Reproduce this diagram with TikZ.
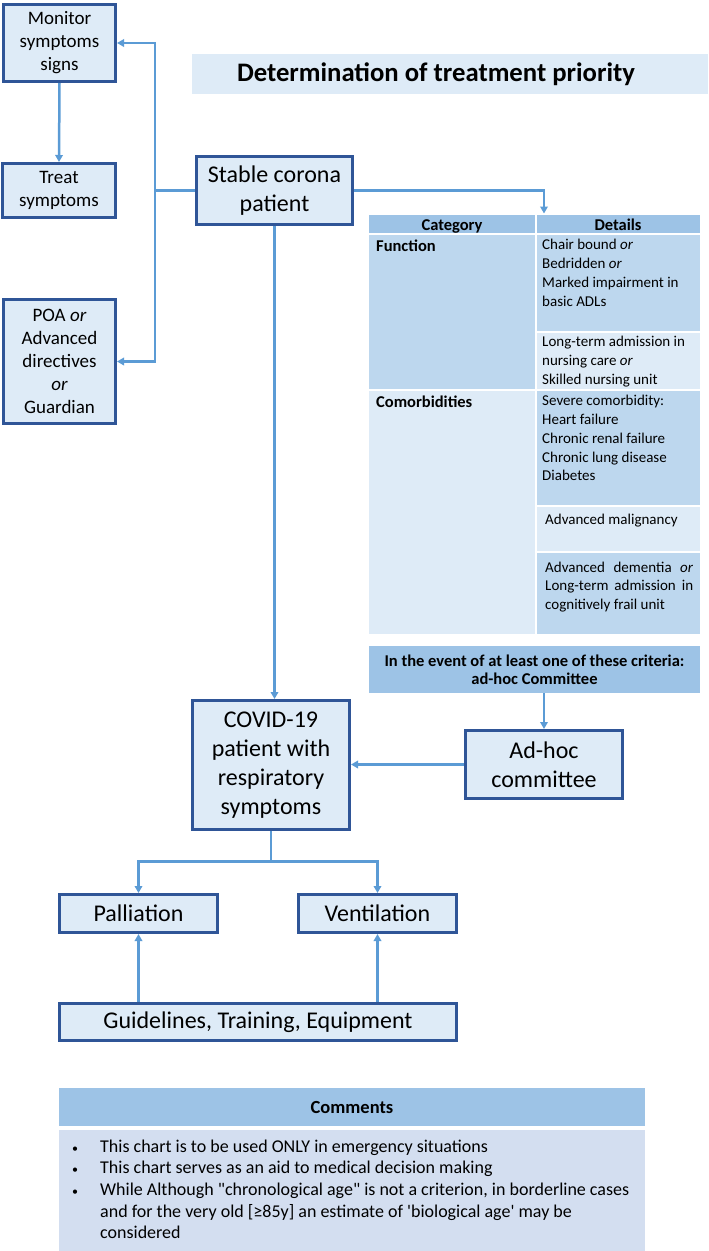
\documentclass[tikz,border=0pt]{standalone}
\usepackage{fontspec}
\setmainfont{Carlito}[Ligatures=TeXOff]
\usetikzlibrary{arrows.meta}
\definecolor{boxfill}{HTML}{DEEBF7}
\definecolor{boxline}{HTML}{2F5597}
\definecolor{arrowc}{HTML}{5B9BD5}
\definecolor{hdr}{HTML}{9DC3E6}
\definecolor{midb}{HTML}{BDD7EE}
\definecolor{lightb}{HTML}{DEEBF7}
\definecolor{combody}{HTML}{D3DEF0}
\newcommand\fbig{\fontsize{24}{29}\selectfont}
\newcommand\fsm{\fontsize{19}{23}\selectfont}
\newcommand\ftab{\fontsize{15}{18.7}\selectfont}
\newcommand\ftabb{\fontsize{16.5}{18.7}\selectfont}
\newcommand\fcom{\fontsize{18}{21.7}\selectfont}
\newcommand\fcomh{\fontsize{18.5}{22}\selectfont}
\newcommand\ftitle{\fontsize{26.7}{30}\selectfont}
\newcommand\fevent{\fontsize{16.5}{18.3}\selectfont}
\newcommand\bulsym{{\fontsize{12}{12}\selectfont\textbullet}}
\tikzset{
  box/.style={draw=boxline, line width=3pt, fill=boxfill, inner sep=0pt, align=center},
  conn/.style={draw=arrowc, line width=2.5pt},
  arr/.style={conn, -{Triangle[length=7pt,width=7.5pt]}},
  tabtxt/.style={anchor=north west, inner sep=0pt, align=left, font=\ftab},
}
\begin{document}
\begin{tikzpicture}[x=1pt,y=-1pt]
\useasboundingbox (0,0) rectangle (709,1251);

% title
\fill[boxfill] (192,54) rectangle (708,94);
\node[font=\bfseries\ftitle, inner sep=0pt] (title) at (436,74) {Determination of treatment priority};

% left boxes
\node[box, font=\fsm, minimum width=112pt, minimum height=77pt] (mon) at (59.5,43) {Monitor\\symptoms\\signs};
\node[box, font=\fsm, minimum width=113pt, minimum height=54pt] (treat) at (59,190.5) {Treat\\symptoms};
\node[box, font=\fsm, minimum width=112pt, minimum height=124pt] (poa) at (59.5,361.5) {POA \textit{or}\\Advanced\\directives\\\textit{or}\\Guardian};

% stable
\node[box, font=\fbig, minimum width=156pt, minimum height=68pt] (stable) at (274.5,190.5) {Stable corona\\patient};

% table
\fill[hdr] (369,215) rectangle (535,233);
\fill[hdr] (537,215) rectangle (700,233);
\fill[midb] (369,235) rectangle (535,389);
\fill[midb] (537,235) rectangle (700,331);
\fill[lightb] (537,333) rectangle (700,389);
\fill[lightb] (369,391) rectangle (535,634);
\fill[midb] (537,391) rectangle (700,505);
\fill[lightb] (537,507) rectangle (700,551);
\fill[midb] (537,553) rectangle (700,634);
\node[font=\bfseries\ftabb, anchor=base, inner sep=0pt] (hcat) at (452,230.8) {Category};
\node[font=\bfseries\ftabb, anchor=base, inner sep=0pt] (hdet) at (618,230.8) {Details};
\node[tabtxt, font=\bfseries\ftabb] (cfun) at (376,238) {\strut Function};
\node[tabtxt, font=\bfseries\ftabb] (ccom) at (376,394) {\strut Comorbidities};
\node[tabtxt] (d1) at (542,236.7) {\strut Chair bound \textit{or}\\Bedridden \textit{or}\\Marked impairment in\\basic ADLs};
\node[tabtxt] (d2) at (542,333.7) {\strut Long-term admission in\\nursing care \textit{or}\\Skilled nursing unit};
\node[tabtxt] (d3) at (542,392.7) {\strut Severe comorbidity:\\Heart failure\\Chronic renal failure\\Chronic lung disease\\Diabetes};
\node[tabtxt] (d4) at (545,511.7) {\strut Advanced malignancy};
\node[tabtxt] (d5) at (545,558.7) {\strut\hbox to 148pt{Advanced\hfill dementia\hfill \textit{or}}\\\hbox to 148pt{Long-term\hfill admission\hfill in}\\cognitively frail unit};
\coordinate (tt) at (544,213.5);

% event box
\node[fill=hdr, minimum width=331pt, minimum height=47pt, inner sep=0pt, font=\bfseries\fevent, align=center] (event) at (534.5,669.5) {In the event of at least one of these criteria:\\ad-hoc Committee};

% ad-hoc and covid
\node[box, font=\fbig, minimum width=157pt, minimum height=68pt] (adhoc) at (544,764.5) {Ad-hoc\\committee};
\node[box, font=\fbig, minimum width=157pt, minimum height=129pt] (covid) at (271,765) {COVID-19\\patient with\\respiratory\\symptoms};

% palliation / ventilation / guidelines
\node[box, font=\fbig, minimum width=158pt, minimum height=38pt] (pall) at (138.5,913.5) {Palliation};
\node[box, font=\fbig, minimum width=158pt, minimum height=38pt] (vent) at (377.5,913.5) {Ventilation};
\node[box, font=\fbig, minimum width=397pt, minimum height=37pt] (guide) at (258,1022) {Guidelines, Training, Equipment};

% comments
\node[fill=hdr, minimum width=586pt, minimum height=38pt, inner sep=0pt, font=\bfseries\fcomh] (comh) at (352,1107) {Comments};
\fill[combody] (59,1130) rectangle (645,1251);
\node[anchor=north west, inner sep=0pt, align=left, font=\fcom] (bul) at (72,1136.6) {\strut\bulsym\\\bulsym\\\bulsym};
\node[anchor=north west, inner sep=0pt, align=left, font=\fcom] (comtxt) at (100,1136.6) {\strut This chart is to be used ONLY in emergency situations\\This chart serves as an aid to medical decision making\\While Although "chronological age" is not a criterion, in borderline cases\\and for the very old [≥85y] an estimate of 'biological age' may be\\considered};

% connectors
\coordinate (jl) at (155,190.5);
\draw[conn] (stable.west) -- (jl);
\draw[arr] (jl) |- (mon.east);
\draw[arr] (jl) |- (poa.east);
\draw[arr] (mon.south) -- (treat.north);
\draw[arr] (stable.east) -| (tt);
\draw[arr] (stable.south) -- (stable.south |- covid.north);
\draw[arr] (adhoc.north |- event.south) -- (adhoc.north);
\draw[arr] (adhoc.west) -- (covid.east |- adhoc.west);
\coordinate (split) at (271,861.5);
\draw[conn] (covid.south) -- (split);
\draw[arr] (split) -| (pall.north);
\draw[arr] (split) -| (vent.north);
\draw[arr] (pall.south |- guide.north) -- (pall.south);
\draw[arr] (vent.south |- guide.north) -- (vent.south);
\end{tikzpicture}
\end{document}
